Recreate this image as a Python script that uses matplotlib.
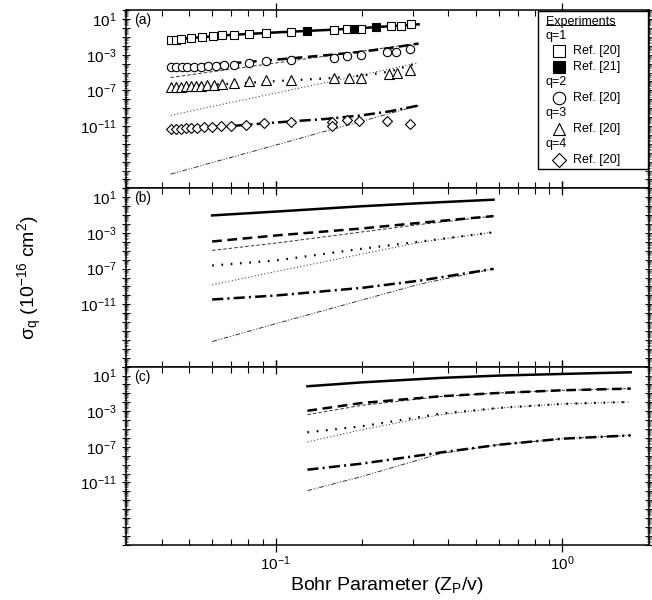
import numpy as np
import matplotlib
matplotlib.use('Agg')
import matplotlib.pyplot as plt
from matplotlib.ticker import FixedLocator, LogLocator, FuncFormatter, NullFormatter

plt.rcParams['font.family'] = ['Liberation Sans', 'DejaVu Sans']
plt.rcParams['mathtext.fontset'] = 'custom'
plt.rcParams['mathtext.rm'] = 'Liberation Sans'
plt.rcParams['mathtext.it'] = 'Liberation Sans:italic'
plt.rcParams['lines.scale_dashes'] = False

# ---------------- panel (a): experiments ----------------
q1_ref20_x = [0.0431, 0.0449, 0.0467, 0.0505, 0.0555, 0.0602, 0.0652, 0.0716, 0.0807,
              0.0923, 0.1128, 0.1597, 0.1776, 0.1978, 0.2516, 0.2727, 0.2955]
q1_ref20_y = [5.0e-2, 5.0e-2, 5.6e-2, 7.8e-2, 1.1e-1, 1.4e-1, 1.5e-1, 1.8e-1, 2.2e-1,
              2.8e-1, 3.6e-1, 6.8e-1, 7.4e-1, 8.7e-1, 1.6, 1.6, 2.5]
q1_ref21_x = [0.1289, 0.1875, 0.2229]
q1_ref21_y = [4.4e-1, 7.6e-1, 1.3]

q2_ref20_x = [0.0430, 0.0449, 0.0470, 0.0492, 0.0519, 0.0548, 0.0581, 0.0618, 0.0661, 0.0716,
              0.0807, 0.0923, 0.1128, 0.1596, 0.1778, 0.1978, 0.2449, 0.2618, 0.2951]
q2_ref20_y = [4.3e-5, 4.3e-5, 4.3e-5, 4.5e-5, 4.5e-5, 4.7e-5, 5.0e-5, 5.6e-5, 6.3e-5, 7.1e-5,
              1.2e-4, 1.9e-4, 2.9e-4, 4.9e-4, 6.8e-4, 8.7e-4, 2.0e-3, 2.0e-3, 5.0e-3]

q3_ref20_x = [0.0430, 0.0449, 0.0467, 0.0486, 0.0505, 0.0526, 0.0548, 0.0578, 0.0610, 0.0652,
              0.0716, 0.0807, 0.0923, 0.1128, 0.1596, 0.1800, 0.1978, 0.2474, 0.2654, 0.2951]
q3_ref20_y = [2.5e-7, 2.5e-7, 2.5e-7, 2.8e-7, 2.8e-7, 3.2e-7, 3.5e-7, 4.0e-7, 4.5e-7, 5.0e-7,
              6.8e-7, 1.05e-6, 1.35e-6, 1.6e-6, 2.5e-6, 2.5e-6, 2.5e-6, 7.1e-6, 8.9e-6, 1.8e-5]

q4_ref20_x = [0.0430, 0.0449, 0.0467, 0.0486, 0.0505, 0.0530, 0.0560, 0.0597, 0.0643, 0.0697,
              0.0786, 0.0910, 0.1128, 0.1576, 0.1576, 0.1778, 0.1950, 0.2449, 0.2935]
q4_ref20_y = [5.0e-12, 5.0e-12, 5.0e-12, 5.6e-12, 5.6e-12, 6.3e-12, 7.1e-12, 7.9e-12, 8.9e-12, 1.0e-11,
              1.4e-11, 2.0e-11, 2.8e-11, 2.5e-11, 1.1e-11, 5.0e-11, 4.0e-11, 4.0e-11, 1.6e-11]

# ---------------- panel (a): theory ----------------
xa = [0.043, 0.07, 0.1, 0.15, 0.2, 0.25, 0.315]
a_q1 = [5.0e-2, 1.7e-1, 3.2e-1, 6.0e-1, 1.0, 1.6, 2.6]
a_q2_thick = [5.0e-5, 1.1e-4, 2.8e-4, 8.9e-4, 2.2e-3, 5.6e-3, 1.8e-2]
a_q2_thin = [2.8e-6, 2.5e-5, 1.2e-4, 7.2e-4, 2.6e-3, 7.1e-3, 1.9e-2]
a_q3_thick = [2.5e-7, 5.6e-7, 1.1e-6, 2.2e-6, 4.5e-6, 1.3e-5, 1.3e-4]
a_q3_thin = [1.6e-10, 4.5e-9, 5.0e-8, 7.9e-7, 5.6e-6, 2.6e-5, 1.3e-4]
a_q4_thick = [5.6e-12, 1.0e-11, 2.5e-11, 6.3e-11, 1.6e-10, 4.5e-10, 2.0e-9]
a_q4_thin = [4.0e-17, 3.1e-15, 7.2e-14, 2.8e-12, 3.5e-11, 2.6e-10, 2.0e-9]

# ---------------- panel (b): theory ----------------
xb = [0.06, 0.1, 0.2, 0.32, 0.575]
b_q1 = [9.3e-2, 2.5e-1, 1.0, 2.2, 5.4]
b_q2_thick = [1.1e-4, 5.2e-4, 3.2e-3, 1.4e-2, 7.8e-2]
b_q2_thin = [1.1e-5, 7.2e-5, 1.3e-3, 9.1e-3, 7.8e-2]
b_q3_thick = [2.2e-7, 8.1e-7, 1.7e-5, 1.1e-4, 1.2e-3]
b_q3_thin = [1.5e-9, 4.6e-8, 4.3e-6, 9.3e-5, 1.2e-3]
b_q4_thick = [3.4e-11, 9.5e-11, 6.9e-10, 4.6e-9, 9.3e-8]
b_q4_thin = [6.5e-16, 6.5e-14, 3.0e-11, 1.9e-9, 9.3e-8]

# ---------------- panel (c): theory ----------------
xc = [0.129, 0.2, 0.376, 0.6, 1.0, 1.73]
c_q1 = [6.2e-1, 1.7, 5.4, 9.8, 15.0, 23.0]
c_q2_thick = [1.1e-3, 8.3e-3, 4.7e-2, 1.1e-1, 2.2e-1, 3.4e-1]
c_q2_thin = [4.1e-4, 4.5e-3, 4.4e-2, 1.1e-1, 2.2e-1, 3.4e-1]
c_q3_thick = [4.2e-6, 2.0e-5, 5.2e-4, 2.3e-3, 6.5e-3, 1.1e-2]
c_q3_thin = [3.5e-7, 8.3e-6, 4.1e-4, 2.2e-3, 6.5e-3, 1.1e-2]
c_q4_thick = [2.7e-10, 1.3e-9, 2.3e-8, 1.7e-7, 8.1e-7, 1.9e-6]
c_q4_thin = [1.2e-12, 4.7e-11, 1.8e-8, 1.7e-7, 8.1e-7, 1.9e-6]

panel_labels = ['(a)', '(b)', '(c)']
y_labelled = [1, -3, -7, -11]

# line styles: thick model / thin model
st_q1 = dict(color='k', lw=1.8, ls='-')
st_q2_thick = dict(color='k', lw=1.8, ls=(0, (7, 4)))
st_q3_thick = dict(color='k', lw=1.6, ls=(0, (1.2, 5.5)))
st_q4_thick = dict(color='k', lw=1.8, ls=(0, (8, 3, 1.5, 3)))
st_q2_thin = dict(color='#333333', lw=0.7, ls=(0, (2.5, 1.5)))
st_q3_thin = dict(color='#333333', lw=0.7, ls=(0, (0.8, 1.6)))
st_q4_thin = dict(color='#333333', lw=0.7, ls=(0, (3.5, 1.2, 0.8, 1.2, 0.8, 1.2)))


def draw_theory(ax, x, q1, q2a, q2b, q3a, q3b, q4a, q4b):
    ax.plot(x, q2b, **st_q2_thin)
    ax.plot(x, q3b, **st_q3_thin)
    ax.plot(x, q4b, **st_q4_thin)
    ax.plot(x, q1, **st_q1)
    ax.plot(x, q2a, **st_q2_thick)
    ax.plot(x, q3a, **st_q3_thick)
    ax.plot(x, q4a, **st_q4_thick)


def ylab(v, pos):
    e = int(round(np.log10(v)))
    if e in y_labelled:
        return r'$\mathregular{10^{%d}}$' % e
    return ''


def xlab(v, pos):
    e = int(round(np.log10(v)))
    return r'$\mathregular{10^{%d}}$' % e


fig, axs = plt.subplots(3, 1, sharex=True, figsize=(6.52, 6.0), dpi=100,
                        gridspec_kw=dict(hspace=0))
plt.subplots_adjust(left=0.193, right=0.995, top=0.983, bottom=0.092)

draw_theory(axs[0], xa, a_q1, a_q2_thick, a_q2_thin, a_q3_thick, a_q3_thin, a_q4_thick, a_q4_thin)
draw_theory(axs[1], xb, b_q1, b_q2_thick, b_q2_thin, b_q3_thick, b_q3_thin, b_q4_thick, b_q4_thin)
draw_theory(axs[2], xc, c_q1, c_q2_thick, c_q2_thin, c_q3_thick, c_q3_thin, c_q4_thick, c_q4_thin)

mk = dict(ls='none', mec='k', mew=0.8, zorder=5)
axs[0].plot(q1_ref20_x, q1_ref20_y, marker='s', ms=5.5, mfc='white', **mk)
axs[0].plot(q1_ref21_x, q1_ref21_y, marker='s', ms=5.5, mfc='k', **mk)
axs[0].plot(q2_ref20_x, q2_ref20_y, marker='o', ms=6, mfc='white', **mk)
axs[0].plot(q3_ref20_x, q3_ref20_y, marker='^', ms=6.5, mfc='white', **mk)
axs[0].plot(q4_ref20_x, q4_ref20_y, marker='D', ms=5.5, mfc='white', **mk)

for ax, lab in zip(axs, panel_labels):
    ax.set_xscale('log')
    ax.set_yscale('log')
    ax.set_xlim(0.03, 2.0)
    ax.set_ylim(1e-18, 1e2)
    ax.yaxis.set_major_locator(FixedLocator([10.0 ** k for k in range(-18, 3)]))
    ax.yaxis.set_minor_locator(LogLocator(base=10, subs=np.arange(2, 10), numticks=40))
    ax.yaxis.set_major_formatter(FuncFormatter(ylab))
    ax.yaxis.set_minor_formatter(NullFormatter())
    ax.xaxis.set_major_locator(LogLocator(base=10, numticks=10))
    ax.xaxis.set_minor_locator(LogLocator(base=10, subs=np.arange(2, 10), numticks=10))
    ax.xaxis.set_major_formatter(FuncFormatter(xlab))
    ax.xaxis.set_minor_formatter(NullFormatter())
    ax.tick_params(axis='y', which='major', direction='inout', length=6, width=0.8,
                   left=True, right=True, labelsize=11)
    ax.tick_params(axis='y', which='minor', direction='inout', length=3, width=0.5,
                   left=True, right=True, color='#555555')
    ax.tick_params(axis='x', which='major', direction='inout', length=10, width=0.9,
                   top=True, bottom=True, labelsize=11, pad=2)
    ax.tick_params(axis='x', which='minor', direction='in', length=4, width=0.8,
                   top=True, bottom=True)
    for sp in ax.spines.values():
        sp.set_linewidth(1.1)
    ax.text(0.015, 0.944, lab, transform=ax.transAxes, fontsize=10, va='center', ha='left')

axs[2].set_xlabel('Bohr Parameter (Z$_\\mathregular{P}$/v)', fontsize=14, labelpad=1)
fig.text(0.046, 0.5375, 'σ$_\\mathregular{q}$ (10$^\\mathregular{-16}$ cm$^\\mathregular{2}$)',
         rotation=90, va='center', ha='center', fontsize=14)

# legend box drawn by hand in panel (a)
ax = axs[0]
ax.add_patch(plt.Rectangle((0.788, 0.107), 0.21, 0.887, transform=ax.transAxes,
                           fill=True, fc='white', ec='k', lw=1.0, zorder=6))
rows = [('Experiments', None), ('q=1', None), ('Ref. [20]', ('s', 'white')),
        ('Ref. [21]', ('s', 'k')), ('q=2', None), ('Ref. [20]', ('o', 'white')),
        ('q=3', None), ('Ref. [20]', ('^', 'white')), ('q=4', None), ('Ref. [20]', ('D', 'white'))]
for i, (txt, m) in enumerate(rows):
    yy = (188 - (20 + 15.5 * i)) / 178.0
    if m is None:
        if i == 0:
            t = ax.text(0.803, yy - 4.5 / 178.0, txt, transform=ax.transAxes, fontsize=9,
                        va='baseline', ha='left', zorder=7)
        else:
            ax.text(0.803, yy, txt, transform=ax.transAxes, fontsize=9, va='center',
                    ha='left', zorder=7)
    else:
        ax.plot([0.828], [yy], marker=m[0], mfc=m[1], mec='k', mew=0.8,
                ms=9 if m[0] != 'D' else 7.5, transform=ax.transAxes, clip_on=False, zorder=7)
        ax.text(0.855, yy, txt, transform=ax.transAxes, fontsize=9, va='center',
                ha='left', zorder=7)

fig.canvas.draw()
bb = t.get_window_extent().transformed(ax.transAxes.inverted())
ub = (188 - 24.5) / 178.0
ax.plot([bb.x0, bb.x1], [ub, ub], color='k', lw=0.7, transform=ax.transAxes,
        clip_on=False, zorder=7)

fig.savefig('out.png', dpi=100)
